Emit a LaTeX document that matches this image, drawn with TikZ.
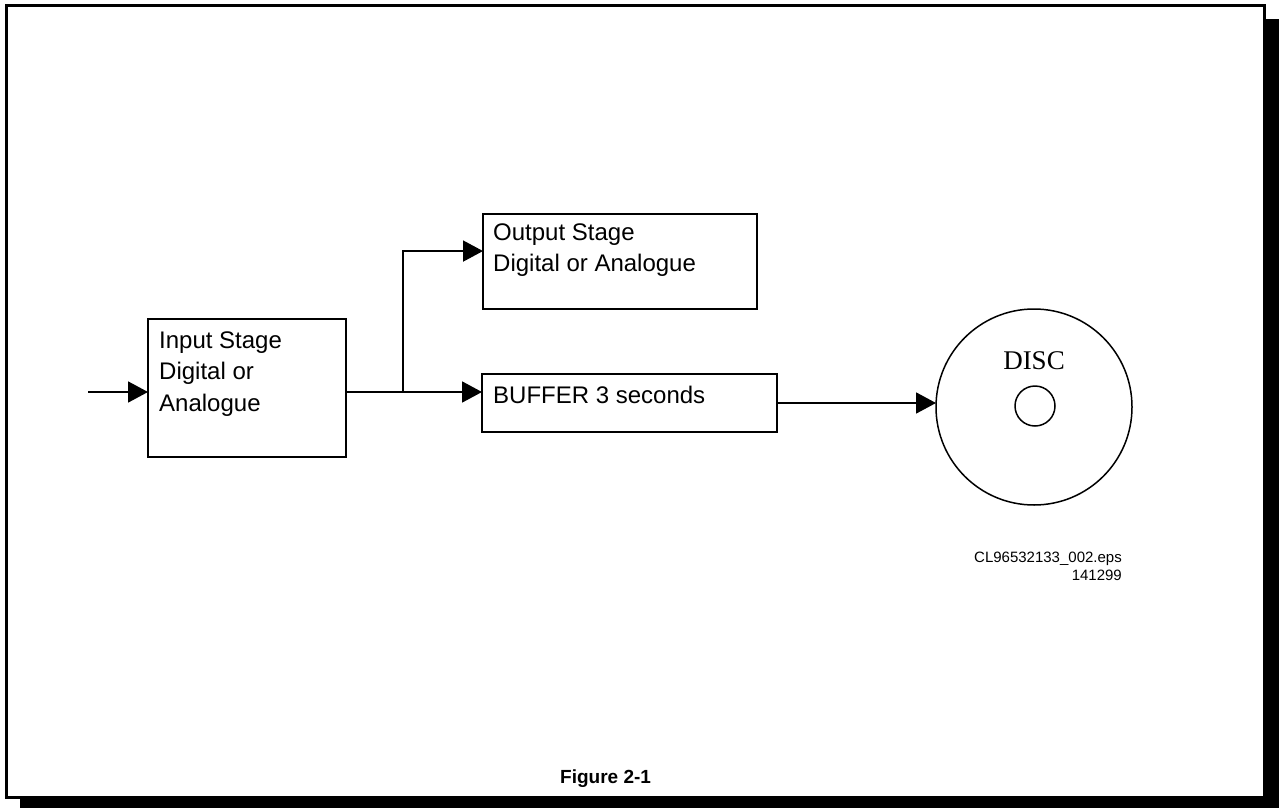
\documentclass[tikz,border=0pt]{standalone}
\usepackage{fontspec}
\setmainfont{Liberation Sans}
\newfontfamily\discfont{Liberation Serif}
\usepackage{tikz}
\usetikzlibrary{calc}
\usetikzlibrary{arrows.meta}
\usetikzlibrary{positioning}

\tikzset{
  block/.style={draw, line width=1.8pt, anchor=north west, inner sep=0pt, outer sep=0pt},
  blocktext/.style={anchor=north west, align=left, inner sep=0pt, font=\fontsize{24}{31.5}\selectfont},
  flow/.style={line width=1.8pt, -{Triangle[length=20pt,width=21pt]}},
}

\begin{document}
\begin{tikzpicture}[x=1pt,y=-1pt]
\useasboundingbox (0,0) rectangle (1279,808);
\fill[black] (20,19) rectangle (1279,808);
\draw[line width=3pt, fill=white] (6,6) rectangle (1264,797);

\node[block, minimum width=198pt, minimum height=138pt] (input) at (148,319) {};
\node[block, minimum width=274pt, minimum height=95pt] (output) at (483,214) {};
\node[block, minimum width=295pt, minimum height=58pt] (buffer) at (482,374) {};

\node[blocktext] (inputtxt) at (159,331.5) {Input Stage\\Digital or\\Analogue};
\node[blocktext] (outputtxt) at (493,223.5) {Output Stage\\Digital or Analogue};
\node[blocktext] (buffertxt) at (493,385.5) {BUFFER 3 seconds};

\node[draw, circle, line width=1.5pt, inner sep=0pt, outer sep=0pt, minimum size=196pt] (disc) at (1034,407) {};
\node[draw, circle, line width=1.5pt, inner sep=0pt, minimum size=40pt] (hole) at (1035,406) {};
\node[anchor=base, inner sep=0pt, font=\discfont\fontsize{27}{27}\selectfont] (disclbl) at (1034,369) {DISC};

\node[anchor=base east, align=right, inner sep=0pt, font=\fontsize{15}{18}\selectfont] (ref) at (1122,580) {CL96532133\_002.eps\\141299};
\node[anchor=base west, inner sep=0pt, font=\bfseries\fontsize{19}{19}\selectfont] (caption) at (560,783) {Figure 2-1};

\coordinate (src) at (88,392);
\coordinate (split) at (403,392);
\draw[flow] (src) -- (src -| input.west);
\draw[flow] (split -| input.east) -- (split -| buffer.west);
\draw[flow] (split) |- ($(output.north west)!0.39!(output.south west)$);
\draw[flow] (buffer.east) -- (buffer.east -| disc.west);

\end{tikzpicture}
\end{document}
